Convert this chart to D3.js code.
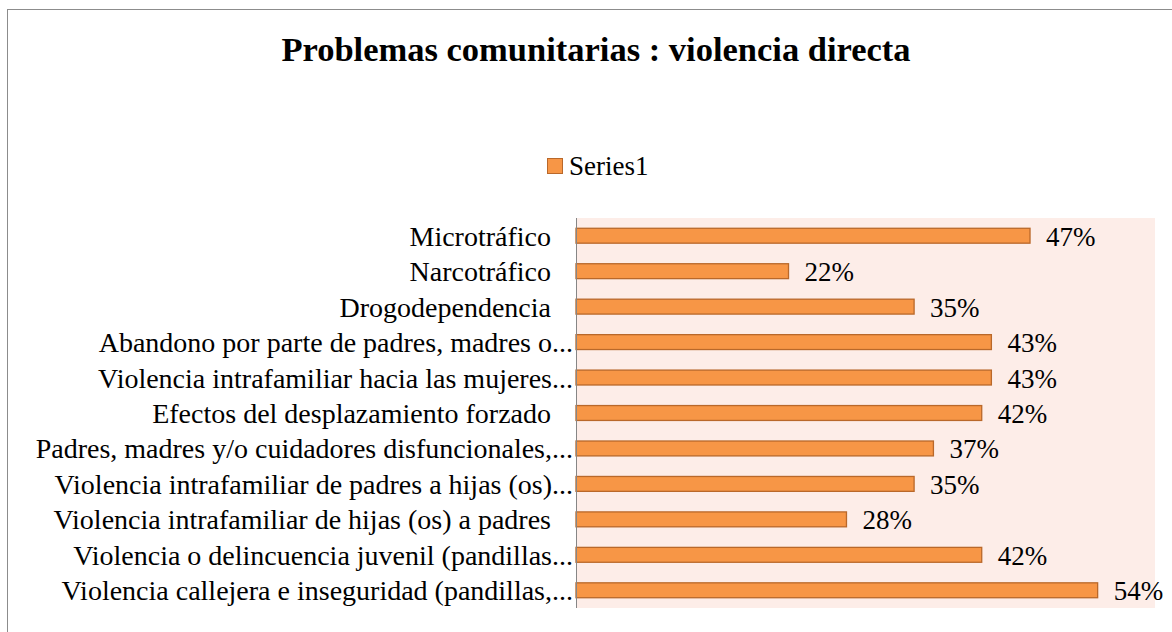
<!DOCTYPE html>
<html>
<head>
<meta charset="utf-8">
<script src="https://cdn.jsdelivr.net/npm/d3@7"></script>
<style>
  body { margin: 0; background: #fff; }
  svg text { font-family: "Liberation Serif", "DejaVu Serif", serif; fill: #000; }
</style>
</head>
<body>
<div id="chart"></div>
<script>
// categories top to bottom, as in the picture
var categories = [
  "Microtráfico",
  "Narcotráfico",
  "Drogodependencia",
  "Abandono por parte de padres, madres o...",
  "Violencia intrafamiliar hacia las mujeres...",
  "Efectos del desplazamiento forzado",
  "Padres, madres y/o cuidadores disfuncionales,...",
  "Violencia intrafamiliar de padres a hijas (os)...",
  "Violencia intrafamiliar de hijas (os) a padres",
  "Violencia o delincuencia juvenil (pandillas...",
  "Violencia callejera e inseguridad (pandillas,..."
];
var values = [0.47, 0.22, 0.35, 0.43, 0.43, 0.42, 0.37, 0.35, 0.28, 0.42, 0.54];
var seriesName = "Series1";
var title = "Problemas comunitarias : violencia directa";

var W = 1172, H = 632;
var plot = {left: 576, right: 1155, top: 218, bottom: 608};
var fontSize = "27px";

var svg = d3.select("#chart").append("svg")
    .attr("width", W)
    .attr("height", H);

// chart frame
svg.append("rect")
    .attr("x", 7.5).attr("y", 9.5)
    .attr("width", W).attr("height", H)
    .attr("fill", "#fff")
    .attr("stroke", "#8c8c8c")
    .attr("stroke-width", 1);

svg.append("text")
    .attr("x", 596).attr("y", 61)
    .attr("text-anchor", "middle")
    .style("font-weight", "bold")
    .style("font-size", "34.5px")
    .text(title);

// legend
svg.append("rect")
    .attr("x", 547.5).attr("y", 158.5)
    .attr("width", 15).attr("height", 15)
    .attr("fill", "#F79646").attr("stroke", "#B9682A");
svg.append("text")
    .attr("x", 569).attr("y", 175)
    .style("font-size", fontSize)
    .text(seriesName);

var x = d3.scaleLinear()
    .domain([0, 0.6])
    .range([plot.left, plot.left + 0.6 * 966]);

var y = d3.scaleBand()
    .domain(categories)
    .range([plot.top, plot.bottom])
    .paddingInner(0.58)
    .paddingOuter(0.29);

svg.append("rect")
    .attr("x", plot.left).attr("y", plot.top)
    .attr("width", plot.right - plot.left)
    .attr("height", plot.bottom - plot.top)
    .attr("fill", "#FDEDE8");

svg.selectAll(".bar")
    .data(values)
    .enter().append("rect")
    .attr("class", "bar")
    .attr("x", x(0))
    .attr("y", function(d, i) { return y(categories[i]); })
    .attr("width", function(d) { return x(d) - x(0); })
    .attr("height", y.bandwidth())
    .attr("fill", "#F79646")
    .attr("stroke", "#B9682A")
    .attr("stroke-width", 1.3);

svg.selectAll(".lbl")
    .data(values)
    .enter().append("text")
    .attr("class", "lbl")
    .attr("x", function(d) { return x(d) + 16; })
    .attr("y", function(d, i) { return y(categories[i]) + y.bandwidth() / 2 + 10; })
    .style("font-size", fontSize)
    .text(function(d) { return Math.round(d * 100) + "%"; });

// category axis
var axis = d3.axisLeft(y).tickSize(0).tickPadding(3);
var g = svg.append("g")
    .attr("transform", "translate(" + plot.left + ",0)")
    .call(axis);
g.select(".domain")
    .attr("d", "M0.5," + plot.top + "V" + plot.bottom)
    .attr("stroke", "#868686");
g.selectAll(".tick text")
    .style("font-family", '"Liberation Serif", "DejaVu Serif", serif')
    .style("font-size", "28px")
    .attr("y", 10)
    .attr("dy", null)
    .attr("dx", function(d) { return d.slice(-3) === "..." ? 0 : -22; });
</script>
</body>
</html>
